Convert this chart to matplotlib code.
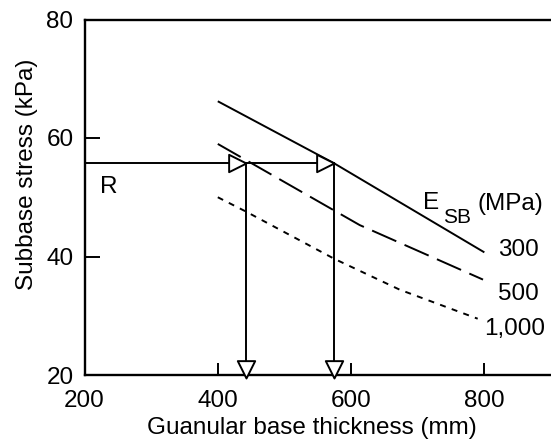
import matplotlib
matplotlib.use("Agg")
import matplotlib.pyplot as plt
from matplotlib.path import Path

plt.rcParams['font.family'] = ['Liberation Sans', 'DejaVu Sans']
plt.rcParams['lines.scale_dashes'] = False

# Data
x_300 = [400, 575, 800]
y_300 = [66.2, 55.7, 40.7]
x_500 = [400, 613, 798]
y_500 = [59.0, 45.3, 36.1]
x_1000 = [400, 442, 575, 673, 790]
y_1000 = [50.0, 47.6, 39.6, 34.4, 29.5]
stress_R = 55.7
thickness_hits = [442, 575]
curve_labels = ["300", "500", "1,000"]
x_ticks = [200, 400, 600, 800]
y_ticks = [20, 40, 60, 80]

W, H = 551, 445
fig = plt.figure(figsize=(W / 100, H / 100), dpi=100)
ax = fig.add_axes([84.5 / W, (H - 375) / H, (W - 84.5) / W, 355.5 / H])
ax.set_xlim(200, 900)
ax.set_ylim(20, 80)

lw = 1.4
ax.plot(x_300, y_300, color='black', lw=lw, solid_capstyle='butt')
ax.plot(x_500, y_500, color='black', lw=lw, dashes=(19, 6.5))
ax.plot(x_1000, y_1000, color='black', lw=lw, dashes=(4.3, 4.6))

# R horizontal line and vertical drops
ax.plot([200, thickness_hits[1]], [stress_R, stress_R], color='black', lw=lw)
for xh in thickness_hits:
    ax.plot([xh, xh], [stress_R, 20], color='black', lw=lw)

right_tri = Path([(0, 0), (-1, 0.5), (-1, -0.5), (0, 0)],
                 [Path.MOVETO, Path.LINETO, Path.LINETO, Path.CLOSEPOLY])
down_tri = Path([(0, 0), (-0.5, 1), (0.5, 1), (0, 0)],
                [Path.MOVETO, Path.LINETO, Path.LINETO, Path.CLOSEPOLY])
for xh in thickness_hits:
    ax.plot([xh], [stress_R], marker=right_tri, markersize=25, mfc='white',
            mec='black', mew=lw, zorder=5, clip_on=False)
    ax.plot([xh], [19.5], marker=down_tri, markersize=25, mfc='white',
            mec='black', mew=lw, zorder=5, clip_on=False)

fs = 17.5
ax.text(223, 50.7, "R", fontsize=fs, ha='left', va='baseline')
ax.text(708, 48.1, "E", fontsize=fs, ha='left', va='baseline')
ax.text(738, 45.6, "SB", fontsize=15, ha='left', va='baseline')
ax.text(790, 47.8, "(MPa)", fontsize=fs, ha='left', va='baseline')
ax.text(820, 40.0, curve_labels[0], fontsize=fs, ha='left', va='baseline')
ax.text(820, 32.7, curve_labels[1], fontsize=fs, ha='left', va='baseline')
ax.text(799, 26.8, curve_labels[2], fontsize=fs, ha='left', va='baseline')

ax.spines['right'].set_visible(False)
for s in ['left', 'top', 'bottom']:
    ax.spines[s].set_linewidth(1.7)

ax.set_xticks(x_ticks)
ax.set_yticks(y_ticks)
ax.tick_params(axis='x', direction='in', length=8.5, width=1.4, pad=11, labelsize=fs)
ax.tick_params(axis='y', direction='in', length=10.8, width=1.4, pad=8, labelsize=fs)

ax.set_xlabel("Guanular base thickness (mm)", fontsize=fs)
ax.set_ylabel("Subbase stress (kPa)", fontsize=fs)
ax.xaxis.set_label_coords(0.487, -0.118)
ax.yaxis.set_label_coords(-0.1, 0.565)

fig.savefig("out.png", dpi=100)
